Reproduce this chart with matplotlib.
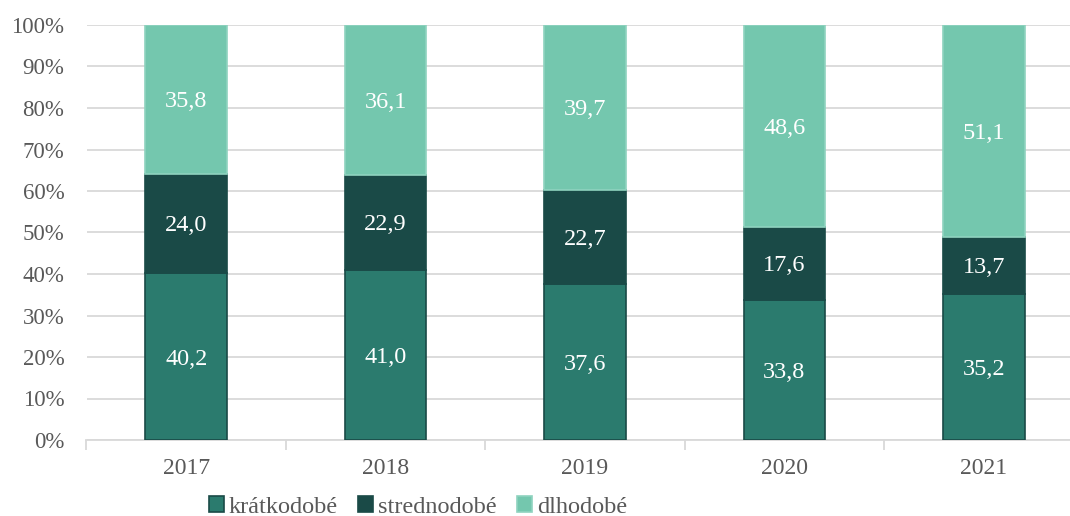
import matplotlib
matplotlib.use('Agg')
import matplotlib.pyplot as plt
import numpy as np

years = ['2017', '2018', '2019', '2020', '2021']
kratkodobe = [40.2, 41.0, 37.6, 33.8, 35.2]
strednodobe = [24.0, 22.9, 22.7, 17.6, 13.7]
dlhodobe = [35.8, 36.1, 39.7, 48.6, 51.1]
series_names = ['krátkodobé', 'strednodobé', 'dlhodobé']

colors = ['#2b7b6e', '#1a4a47', '#74c7ae']
edges = ['#1a4a47', '#1a4a47', '#8fd3bf']

plt.rcParams['font.family'] = ['Liberation Serif', 'DejaVu Serif']

fig = plt.figure(figsize=(10.7, 5.16), dpi=100)
ax = fig.add_axes([86.5 / 1070, 76 / 516, (1070 - 86.5) / 1070, 415 / 516])

x = np.arange(len(years))
bottom = np.zeros(len(years))
for vals, c, ec, name in zip([kratkodobe, strednodobe, dlhodobe], colors, edges, series_names):
    vals = np.array(vals)
    ax.bar(x, vals, 0.41, bottom=bottom, color=c, edgecolor=ec, linewidth=1.2,
           label=name, zorder=3)
    for xi, b, v in zip(x, bottom, vals):
        ax.text(xi, b + v / 2 - 0.6, f"{v:.1f}".replace('.', ','), ha='center', va='center',
                color='white', fontsize=17.5, zorder=4)
    bottom += vals

ax.set_xlim(-0.5, (1070 - 86.5) / 199.4 - 0.5)
ax.set_ylim(0, 100)
ax.set_yticks(np.arange(0, 101, 10))
ax.set_yticklabels([f"{v}%" for v in range(0, 101, 10)])
ax.yaxis.grid(True, color='#d9d9d9', linewidth=1.3, zorder=0)
ax.set_xticks(x)
ax.set_xticklabels(years)
ax.set_xticks(np.arange(-0.5, 4.5, 1.0), minor=True)
ax.tick_params(axis='x', which='major', length=0, pad=13, labelsize=17, labelcolor='#595959')
ax.tick_params(axis='x', which='minor', length=7, color='#d9d9d9', width=1.3)
ax.tick_params(axis='y', length=0, pad=16, labelsize=16.5, labelcolor='#595959')
for s in ['top', 'right', 'left']:
    ax.spines[s].set_visible(False)
ax.spines['bottom'].set_color('#d9d9d9')
ax.spines['bottom'].set_linewidth(1.3)

handles, labels = ax.get_legend_handles_labels()
fig.legend(handles, labels, loc='center', bbox_to_anchor=(418 / 1070, 1 - 507 / 516), ncol=3,
           frameon=False, fontsize=17.5, handlelength=0.6, handleheight=0.6,
           handletextpad=0.2, columnspacing=0.85, labelcolor='#595959')

plt.savefig('out.png', dpi=100)
plt.close()
